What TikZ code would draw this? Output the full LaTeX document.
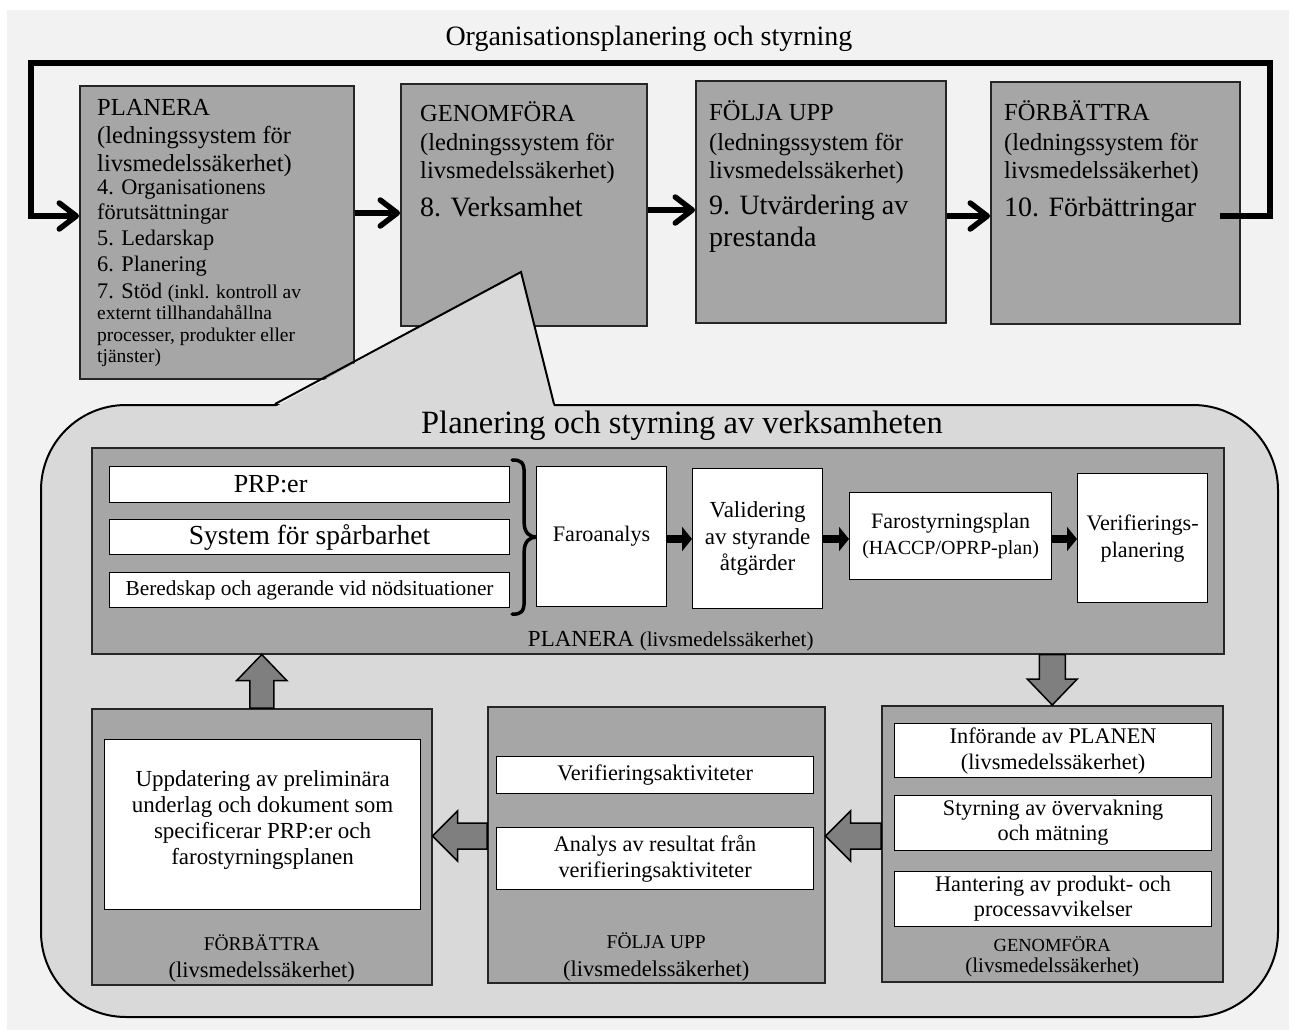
\documentclass[tikz,border=0pt]{standalone}
\usepackage{fontspec}
\setmainfont{Liberation Serif}
\usetikzlibrary{positioning,calc,arrows.meta}
\definecolor{bggray}{RGB}{242,242,242}
\definecolor{boxgray}{RGB}{166,166,166}
\definecolor{calloutgray}{RGB}{217,217,217}
\definecolor{arrowgray}{RGB}{127,127,127}

% block arrows: #1 tail, #2 tip
\newcommand{\blockup}[2]{\draw[blockarr] ($(#1)+(-12,0)$) -- ($(#2)+(-12,26)$) -- ($(#2)+(-25,26)$) -- (#2) -- ($(#2)+(25,26)$) -- ($(#2)+(12,26)$) -- ($(#1)+(12,0)$) -- cycle;}
\newcommand{\blockdown}[2]{\draw[blockarr] ($(#1)+(-13,0)$) -- ($(#2)+(-13,-26)$) -- ($(#2)+(-25,-26)$) -- (#2) -- ($(#2)+(25,-26)$) -- ($(#2)+(13,-26)$) -- ($(#1)+(13,0)$) -- cycle;}
\newcommand{\blockleft}[2]{\draw[blockarr] ($(#1)+(0,-13)$) -- ($(#2)+(25,-13)$) -- ($(#2)+(25,-25)$) -- (#2) -- ($(#2)+(25,25)$) -- ($(#2)+(25,13)$) -- ($(#1)+(0,13)$) -- cycle;}

\begin{document}
\begin{tikzpicture}[x=1pt, y=-1pt,
  bigbox/.style={draw=black!85, line width=1.5pt, fill=boxgray, anchor=north west, inner sep=0pt},
  whitebox/.style={draw=black, line width=1.2pt, fill=white, anchor=north west, inner sep=0pt, align=center},
  topline/.style={line width=5.5pt, -{Straight Barb[length=17pt,width=26pt,round]}},
  smallarr/.style={line width=8pt, -{Triangle[length=10pt,width=24pt]}},
  blockarr/.style={draw=black, line width=1.5pt, fill=arrowgray},
  linetext/.style={anchor=base west, inner sep=0pt},
  sublabel/.style={inner sep=0pt, align=center}]
\useasboundingbox (0,0) rectangle (1296,1034);
\fill[white] (0,0) rectangle (1296,1034);
\fill[bggray] (7,10) rectangle (1289,1030);

\node[anchor=base, font=\fontsize{28}{32}\selectfont] (title) at (649,45) {Organisationsplanering och styrning};

% top row
\node[bigbox, minimum width=274pt, minimum height=293pt] (planera) at (79,85) {};
\node[bigbox, minimum width=246pt, minimum height=242pt] (genomfora) at (400,83) {};
\node[bigbox, minimum width=250pt, minimum height=242pt] (foljaupp) at (695,80) {};
\node[bigbox, minimum width=249pt, minimum height=242pt] (forbattra) at (990,81) {};

\foreach \y/\s/\t [count=\i] in {115/24.5/PLANERA, 143/24.5/(ledningssystem för, 171/24.5/livsmedelssäkerhet),
    194/22.3/4. Organisationens, 219/22.3/förutsättningar, 245/22.3/5. Ledarskap, 271/22.3/6. Planering,
    298/22.3/{7. Stöd {\fontsize{19.5}{20}\selectfont(inkl. kontroll av}}, 319.5/19.5/externt tillhandahållna,
    341.5/19.5/{processer, produkter eller}, 362.5/19.5/tjänster)}
  \node[linetext, font=\fontsize{\s}{\s}\selectfont] (pltext\i) at (97,\y) {\t};

\foreach \y/\s/\t [count=\i] in {121/24.5/GENOMFÖRA, 150/24.5/(ledningssystem för, 178/24.5/livsmedelssäkerhet),
    216/28/8. Verksamhet}
  \node[linetext, font=\fontsize{\s}{\s}\selectfont] (gentext\i) at (420,\y) {\t};

\foreach \y/\s/\t [count=\i] in {120/24.5/FÖLJA UPP, 150/24.5/(ledningssystem för, 178/24.5/livsmedelssäkerhet),
    214/28/9. Utvärdering av, 246/28/prestanda}
  \node[linetext, font=\fontsize{\s}{\s}\selectfont] (foltext\i) at (709,\y) {\t};

\foreach \y/\s/\t [count=\i] in {120/24.5/FÖRBÄTTRA, 150/24.5/(ledningssystem för, 178/24.5/livsmedelssäkerhet),
    216/28/10. Förbättringar}
  \node[linetext, font=\fontsize{\s}{\s}\selectfont] (fortext\i) at (1004,\y) {\t};

\coordinate (loopout) at (1220,216);
\coordinate (loopin) at (31,216);
\draw[topline] (loopout) -- (1270,216) -- (1270,63) -- (31,63) -- (loopin) -- (loopin -| planera.west);
\draw[topline] (planera.east |- 0,213) -- (genomfora.west |- 0,213);
\draw[topline] (genomfora.east |- 0,210) -- (foljaupp.west |- 0,210);
\draw[topline] (foljaupp.east |- 0,216) -- (forbattra.west |- 0,216);

% callout
\node[draw, line width=2pt, fill=calloutgray, rounded corners=85pt, anchor=north west,
  minimum width=1237pt, minimum height=612pt] (callout) at (40,404) {};
\coordinate (apex) at (521,272);
\coordinate (pleft) at (275,404);
\coordinate (pright) at (554,404);
\fill[calloutgray] ($(pleft)+(0,3)$) -- (apex) -- ($(pright)+(0,3)$) -- cycle;
\draw[line width=2pt] (pleft) -- (apex) -- (pright);
\node[anchor=base, font=\fontsize{32.5}{36}\selectfont] (calltitle) at (682,433) {Planering och styrning av verksamheten};

% PLANERA (livsmedelssakerhet)
\node[bigbox, minimum width=1132pt, minimum height=206pt] (planfs) at (91,447) {};
\node[whitebox, minimum width=400pt, minimum height=36pt, font=\fontsize{26}{30}\selectfont] (prp) at (109,466) {\kern-78pt PRP:er};
\node[whitebox, minimum width=400pt, minimum height=35pt, font=\fontsize{27.5}{30}\selectfont] (sparbar) at (109,519) {System för spårbarhet};
\node[whitebox, minimum width=400pt, minimum height=35pt, font=\fontsize{21.3}{24}\selectfont] (beredskap) at (109,572) {Beredskap och agerande vid nödsituationer};

% brace
\coordinate (bracetop) at ([xshift=2pt, yshift=6pt]prp.north east);
\coordinate (bracebot) at ([xshift=2pt, yshift=-6pt]beredskap.south east);
\coordinate (bracetip) at ($(bracetop)!0.5!(bracebot)+(24,0)$);
\draw[line width=3.5pt, line cap=round]
  (bracetop) .. controls ++(9,0) and ++(0,-12) .. ($(bracetop)+(12,14)$)
  -- ($(bracetip)+(-12,-14)$) .. controls ++(0,10) and ++(-6,0) .. (bracetip)
  .. controls ++(-6,0) and ++(0,-10) .. ($(bracetip)+(-12,14)$)
  -- ($(bracebot)+(12,-14)$) .. controls ++(0,12) and ++(9,0) .. (bracebot);

\node[whitebox, minimum width=130pt, minimum height=140pt, font=\fontsize{22.2}{26}\selectfont] (faroanalys) at (536,466) {Faroanalys};
\node[whitebox, minimum width=130pt, minimum height=140pt, font=\fontsize{23}{26.5}\selectfont] (validering) at (692,468) {Validering\\av styrande\\åtgärder};
\node[whitebox, minimum width=202pt, minimum height=87pt, font=\fontsize{22}{26}\selectfont] (farostyr) at (849,492) {Farostyrningsplan\\{\fontsize{20}{26}\selectfont(HACCP/OPRP-plan)}};
\node[whitebox, minimum width=130pt, minimum height=129pt, font=\fontsize{22.2}{27}\selectfont] (verifplan) at (1077,473) {Verifierings-\\planering};

\draw[smallarr] (faroanalys.east |- 0,539) -- (validering.west |- 0,539);
\draw[smallarr] (validering.east |- 0,539) -- (farostyr.west |- 0,539);
\draw[smallarr] (farostyr.east |- 0,539) -- (verifplan.west |- 0,539);

\node[above=3pt of planfs.south, xshift=13pt, inner sep=0pt, font=\fontsize{23}{26}\selectfont] (planlabel)
  {PLANERA {\fontsize{21}{24}\selectfont(livsmedelssäkerhet)}};

% GENOMFORA
\node[bigbox, minimum width=341pt, minimum height=276pt] (genom) at (881,705) {};
\node[whitebox, minimum width=317pt, minimum height=54pt, font=\fontsize{22.3}{26}\selectfont] (inforande) at (894,723) {Införande av PLANEN\\(livsmedelssäkerhet)};
\node[whitebox, minimum width=317pt, minimum height=55pt, font=\fontsize{22.3}{25}\selectfont] (styrning) at (894,795) {Styrning av övervakning\\och mätning};
\node[whitebox, minimum width=317pt, minimum height=55pt, font=\fontsize{22.3}{25}\selectfont] (hantering) at (894,871) {Hantering av produkt- och\\processavvikelser};
\node[sublabel, above=5pt of genom.south, font=\fontsize{21}{21}\selectfont] (genomlabel)
  {{\fontsize{18.5}{20}\selectfont GENOMFÖRA}\\(livsmedelssäkerhet)};

% FOLJA UPP
\node[bigbox, minimum width=337pt, minimum height=276pt] (folja) at (487,706) {};
\node[whitebox, minimum width=317pt, minimum height=37pt, font=\fontsize{22.3}{26}\selectfont] (verakt) at (496,756) {Verifieringsaktiviteter};
\node[whitebox, minimum width=317pt, minimum height=62pt, font=\fontsize{22.3}{26}\selectfont] (analys) at (496,827) {Analys av resultat från\\verifieringsaktiviteter};
\node[sublabel, above=2.5pt of folja.south, font=\fontsize{22.5}{28}\selectfont] (foljalabel)
  {{\fontsize{19.5}{20}\selectfont FÖLJA UPP}\\(livsmedelssäkerhet)};

% FORBATTRA
\node[bigbox, minimum width=340pt, minimum height=276pt] (forb) at (91,708) {};
\node[whitebox, minimum width=316pt, minimum height=170pt, font=\fontsize{23}{26}\selectfont] (uppdatering) at (104,739)
  {Uppdatering av preliminära\\underlag och dokument som\\specificerar PRP:er och\\farostyrningsplanen\\[-12pt]\mbox{}};
\node[sublabel, above=3.5pt of forb.south, font=\fontsize{22.5}{27}\selectfont] (forblabel)
  {{\fontsize{19.5}{20}\selectfont FÖRBÄTTRA}\\(livsmedelssäkerhet)};

% block arrows
\coordinate (uptip) at (forb.north |- planfs.south);
\coordinate (downtail) at (genom.north |- planfs.south);
\coordinate (gtail) at (genom.west |- 0,836);
\coordinate (gtip) at (folja.east |- 0,836);
\coordinate (ftail) at (folja.west |- 0,836);
\coordinate (ftip) at (forb.east |- 0,836);
\blockup{forb.north}{uptip}
\blockdown{downtail}{genom.north}
\blockleft{gtail}{gtip}
\blockleft{ftail}{ftip}
\end{tikzpicture}
\end{document}
